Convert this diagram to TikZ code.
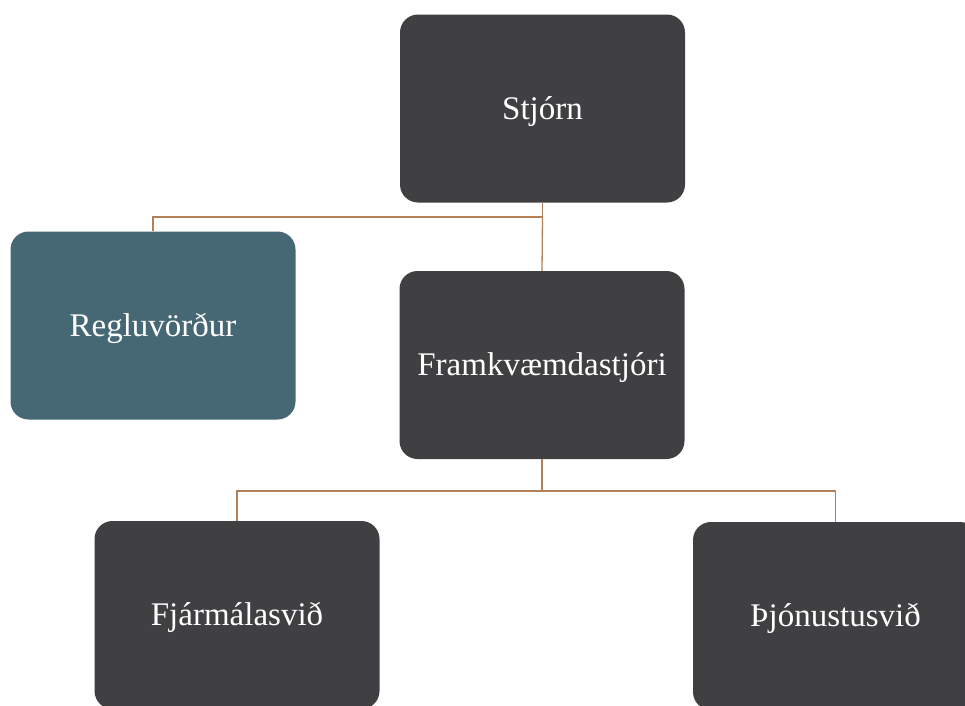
\documentclass[tikz,border=0pt]{standalone}
\usepackage{fontspec}
\setmainfont{Liberation Serif}
\definecolor{boxgray}{RGB}{64,64,66}
\definecolor{boxteal}{RGB}{70,104,117}
\definecolor{linkcol}{RGB}{180,128,88}
\tikzset{
  orgbox/.style={rectangle, rounded corners=18pt, fill=boxgray, text=white,
    minimum width=285pt, minimum height=188pt, inner sep=0pt,
    text height=23pt, text depth=2pt,
    font=\fontsize{33}{40}\selectfont},
  tealbox/.style={orgbox, fill=boxteal},
  link/.style={draw=linkcol, line width=1.3pt}
}
\begin{document}
\begin{tikzpicture}[x=1pt,y=-1pt]
\useasboundingbox (0,0) rectangle (965,705);
\begin{scope}
\clip (0,0) rectangle (965,705);
\node[orgbox] (st) at (542.5,108.5) {Stjórn};
\node[tealbox] (rg) at (153,325.5) {Regluvörður};
\node[orgbox] (fr) at (542,365) {Framkvæmdastjóri};
\node[orgbox] (fj) at (237,615) {Fjármálasvið};
\node[orgbox] (tj) at (835.5,616) {Þjónustusvið};
\coordinate (j1) at (542.5,217);
\coordinate (j2) at (542,491);
\draw[link] (st.south) -- (j1) -| (rg.north);
\draw[link] (j1) -- (fr.north);
\draw[link] (fr.south) -- (j2) -| (fj.north);
\draw[link] (j2) -| (tj.north);
\end{scope}
\end{tikzpicture}
\end{document}
